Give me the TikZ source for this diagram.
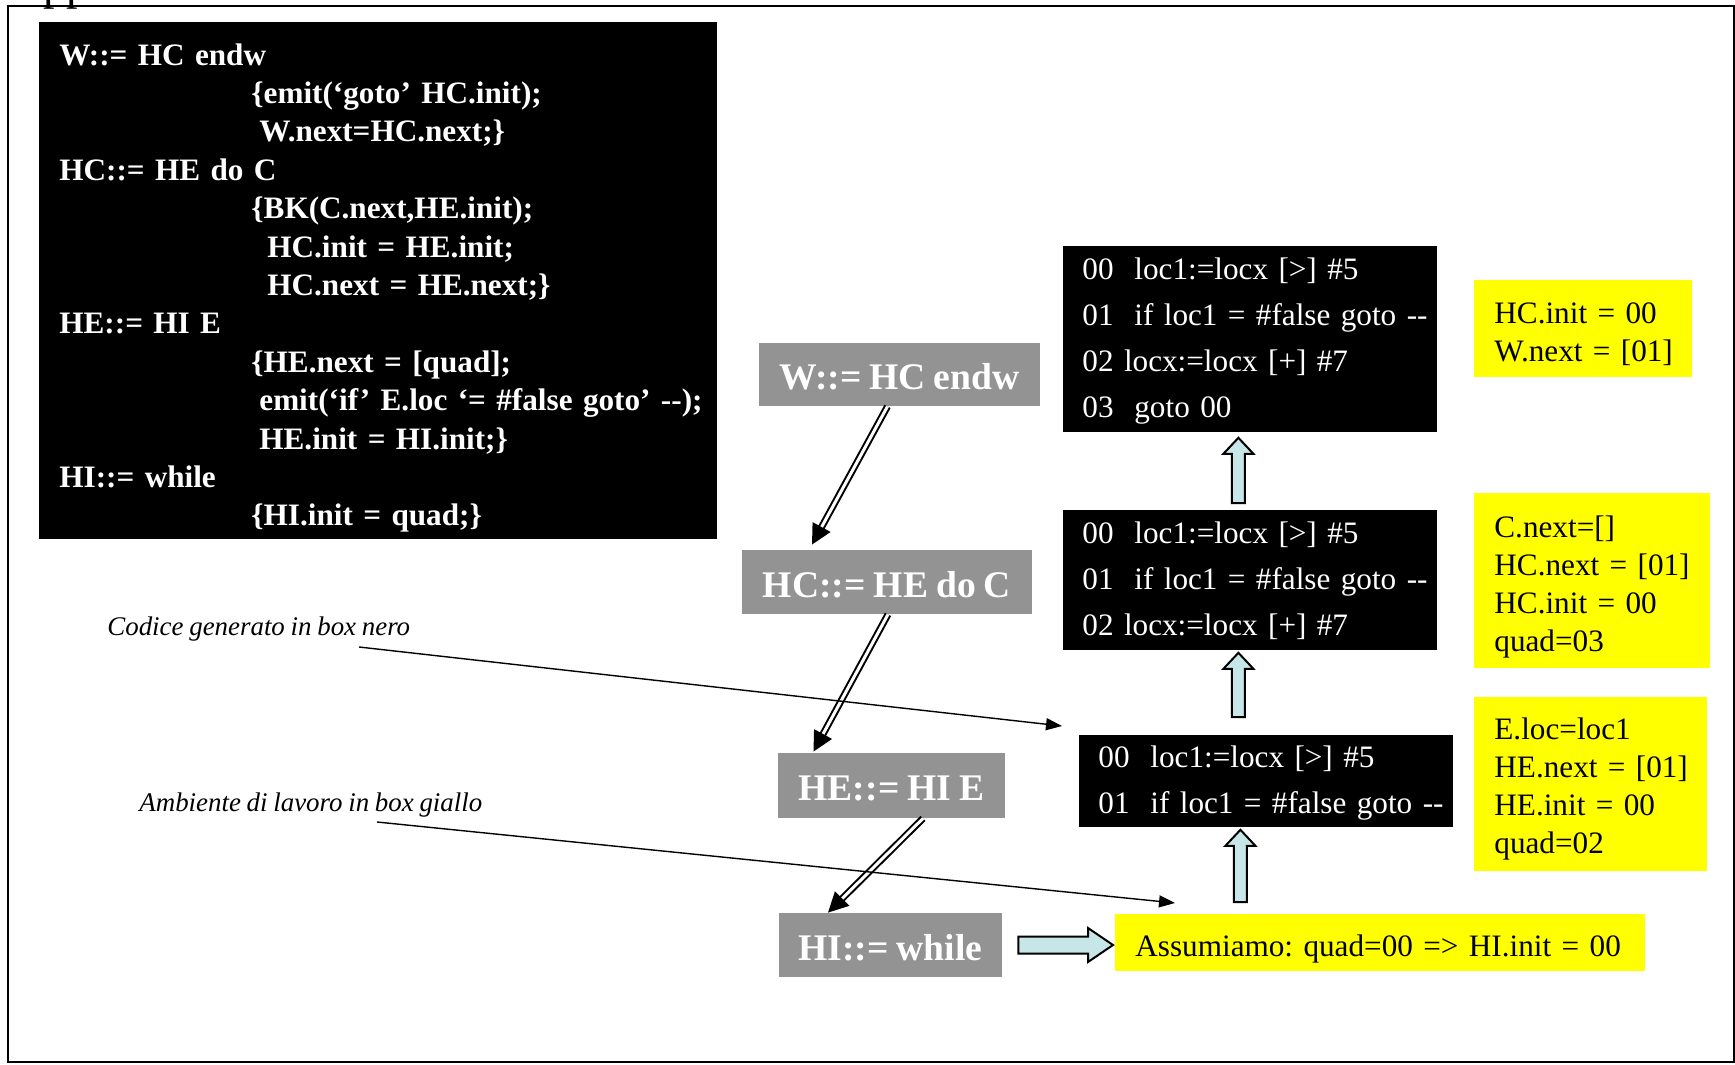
\documentclass[tikz,border=0pt]{standalone}
\usepackage{fontspec}
\setmainfont{Liberation Serif}[WordSpace=0.85]
\frenchspacing
\usetikzlibrary{positioning, arrows.meta, calc}
\definecolor{boxGray}{HTML}{939393}
\definecolor{boxYellow}{HTML}{FFFF00}
\definecolor{arrowCyan}{HTML}{C6E6E8}

% righe di testo senza a capo automatico (opz.: abbassamento)
\newcommand{\righe}[2][0pt]{\raisebox{-#1}[\height][\depth]{\begin{tabular}{@{}l@{}}#2\end{tabular}}}
% frecce piene (base, punta)
\newcommand{\frecciaSu}[2]{%
  \draw[blockArrow] let \p1=(#1), \p2=(#2) in
    (\x1-3.25pt,\y1) -- (\x1-3.25pt,\y2-8pt) -- (\x1-7.5pt,\y2-8pt) -- (\x1,\y2)
    -- (\x1+7.5pt,\y2-8pt) -- (\x1+3.25pt,\y2-8pt) -- (\x1+3.25pt,\y1) -- cycle;}
\newcommand{\frecciaDx}[2]{%
  \draw[blockArrow] let \p1=(#1), \p2=(#2) in
    (\x1,\y1+4.25pt) -- (\x2-12.5pt,\y1+4.25pt) -- (\x2-12.5pt,\y1+8.5pt) -- (\x2,\y1)
    -- (\x2-12.5pt,\y1-8.5pt) -- (\x2-12.5pt,\y1-4.25pt) -- (\x1,\y1-4.25pt) -- cycle;}

\begin{document}
\begin{tikzpicture}[x=0.5pt, y=-0.5pt,
    grammarBox/.style={fill=black, text=white, anchor=north west, inner xsep=10pt, inner ysep=0pt,
      text width=319pt, minimum height=258.5pt, align=left, font=\fontsize{15.6}{19.2}\selectfont\bfseries},
    codeBox/.style={fill=black, text=white, anchor=north west, inner xsep=9.5pt, inner ysep=0pt,
      text width=168pt, align=left, font=\fontsize{15.6}{23}\selectfont},
    envBox/.style={fill=boxYellow, text=black, anchor=north west, inner xsep=10pt, inner ysep=0pt,
      align=left, font=\fontsize{15.6}{19}\selectfont},
    ruleBox/.style={fill=boxGray, text=white, inner sep=0pt, text height=17pt, text depth=1.8pt,
      font=\fontsize{18.8}{22}\selectfont\bfseries},
    noteText/.style={anchor=base west, inner sep=0pt, font=\fontsize{13.45}{16}\selectfont\itshape},
    dblArrow/.style={draw=black, line width=1pt, double=white, double distance=1.5pt,
      -{Triangle[length=10pt, width=10pt]}},
    noteArrow/.style={draw=black, line width=0.7pt, -{Triangle[length=8pt, width=6pt]}},
    blockArrow/.style={draw=black, line width=1pt, fill=arrowCyan, line join=miter}]
  \useasboundingbox (0,0) rectangle (1735,1065);
  % cornice e titolo tagliato
  \draw[line width=1pt] (8,6) rectangle (1734,1062);
  \node[anchor=base west, inner sep=0pt, font=\fontsize{23}{27}\selectfont] (titolo) at (43,0) {pp};

  % grammatica
  \node[grammarBox] (grammatica) at (39,22) {\righe[3.5pt]{%
    W::= HC endw\\
    \hspace*{96pt}\{emit(‘goto’ HC.init);\\
    \hspace*{100pt}W.next=HC.next;\}\\
    HC::= HE do C\\
    \hspace*{96pt}\{BK(C.next,HE.init);\\
    \hspace*{104pt}HC.init = HE.init;\\
    \hspace*{104pt}HC.next = HE.next;\}\\
    HE::= HI E\\
    \hspace*{96pt}\{HE.next = [quad];\\
    \hspace*{100pt}emit(‘if’ E.loc ‘= \#false goto’ -{}-);\\
    \hspace*{100pt}HE.init = HI.init;\}\\
    HI::= while\\
    \hspace*{96pt}\{HI.init = quad;\}}};

  % albero delle regole
  \node[ruleBox, minimum width=140.5pt, minimum height=31.5pt] (ruleW) at (899.5,374.5) {W::= HC endw};
  \node[ruleBox, minimum width=145pt, minimum height=32pt] (ruleHC) at (887,582) {HC::= HE do C};
  \node[ruleBox, minimum width=113.5pt, minimum height=32.5pt] (ruleHE) at (891.5,785.5) {HE::= HI E};
  \node[ruleBox, minimum width=111.5pt, minimum height=32pt] (ruleHI) at (890.5,945) {HI::= while};
  \draw[dblArrow] ([xshift=-6pt]ruleW.south) -- ([xshift=-37.5pt,yshift=2.5pt]ruleHC.north);
  \draw[dblArrow] ([xshift=0.5pt]ruleHC.south) -- ([xshift=-39pt,yshift=0.5pt]ruleHE.north);
  \draw[dblArrow] ([xshift=15.75pt]ruleHE.south) -- ([xshift=-31.25pt]ruleHI.north);

  % codice generato
  \node[codeBox, minimum height=93pt] (codiceA) at (1063,246) {\righe{%
    00~~loc1:=locx [>] \#5\\
    01~~if loc1 = \#false goto -{}-\\
    02 locx:=locx [+] \#7\\
    03~~goto 00}};
  \node[codeBox, minimum height=70pt] (codiceB) at (1063,510) {\righe{%
    00~~loc1:=locx [>] \#5\\
    01~~if loc1 = \#false goto -{}-\\
    02 locx:=locx [+] \#7}};
  \node[codeBox, minimum height=46pt] (codiceC) at (1079,735) {\righe{%
    00~~loc1:=locx [>] \#5\\
    01~~if loc1 = \#false goto -{}-}};

  % ambiente di lavoro
  \node[envBox, text width=89pt, minimum height=48.5pt] (ambW) at (1474,280) {\righe[2.75pt]{%
    HC.init = 00\\
    W.next = [01]}};
  \node[envBox, text width=98pt, minimum height=87.5pt] (ambHC) at (1474,493) {\righe[2.75pt]{%
    C.next=[]\\
    HC.next = [01]\\
    HC.init = 00\\
    quad=03}};
  \node[envBox, text width=96.5pt, minimum height=87pt] (ambHE) at (1474,697) {\righe[2.25pt]{%
    E.loc=loc1\\
    HE.next = [01]\\
    HE.init = 00\\
    quad=02}};
  \node[envBox, text width=245pt, minimum height=28.5pt] (ambHI) at (1115,914) {\righe[2.75pt]{%
    Assumiamo: quad=00 => HI.init = 00}};

  % frecce piene
  \frecciaSu{$(codiceB.north)+(-12,-7)$}{$(codiceA.south)+(-12,5)$}
  \frecciaSu{$(codiceC.north)+(-28,-18)$}{$(codiceB.south)+(-12,2)$}
  \frecciaSu{$(ambHI.north)+(-140,-12)$}{$(codiceC.south)+(-26,2)$}
  \frecciaDx{$(ruleHI.east)+(16,0)$}{$(ambHI.west)+(-2,0)$}

  % note
  \node[noteText] (notaCodice) at (107,635) {Codice generato in box nero};
  \node[noteText] (notaAmbiente) at (139,811) {Ambiente di lavoro in box giallo};
  \coordinate (daCodice) at (359,647);
  \coordinate (aCodice) at (1062,726);
  \coordinate (daAmbiente) at (377,822);
  \coordinate (aAmbiente) at (1175,903);
  \draw[noteArrow] (daCodice) -- (aCodice);
  \draw[noteArrow] (daAmbiente) -- (aAmbiente);
\end{tikzpicture}
\end{document}
